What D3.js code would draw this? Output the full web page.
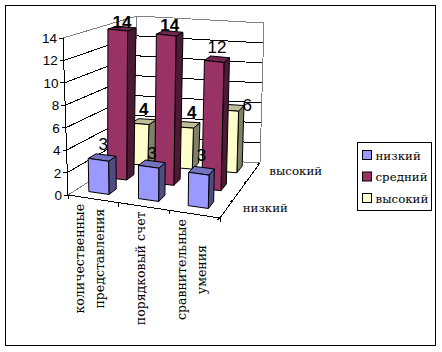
<!DOCTYPE html>
<html>
<head>
<meta charset="utf-8">
<script src="https://cdn.jsdelivr.net/npm/d3@7"></script>
<style>
html, body { margin: 0; padding: 0; background: #fff; }
svg { display: block; }
</style>
</head>
<body>
<div id="chart"></div>
<script>
var categories = [['количественные', 'представления'], ['порядковый счет'], ['сравнительные', 'умения']];
var seriesNames = ['низкий', 'средний', 'высокий'];
var nizkiy = [3, 3, 3];
var sredniy = [14, 14, 12];
var vysokiy = [4, 4, 6];
var yTicks = [0, 2, 4, 6, 8, 10, 12, 14];
var depthLabels = ['низкий', 'высокий'];

var seriesValues = [nizkiy, sredniy, vysokiy];
var faceColors = [
    {front: '#9999ff', side: '#4d4d80', top: '#7373bf'},
    {front: '#993366', side: '#4d1a33', top: '#732650'},
    {front: '#ffffcc', side: '#808066', top: '#bfbf99'}
];

var width = 442, height = 352;
var serifFont = '"DejaVu Serif", serif';
var sansFont = '"Liberation Sans", Arial, sans-serif';
var textSize = 12.5;

var svg = d3.select('#chart').append('svg')
    .attr('width', width)
    .attr('height', height);

svg.append('rect')
    .attr('x', 5.5).attr('y', 5.5)
    .attr('width', 430).attr('height', 340)
    .attr('fill', 'none').attr('stroke', '#000');

// corners of the 3d box as they land on the page: [floor, top], front/back, left/right
var box = {
    fl0: [68, 195], fr0: [220, 218], bl0: [131, 155], br0: [260, 163],
    fl1: [63, 38], fr1: [224, 60], bl1: [137, 16], br1: [264, 23]
};

var u = d3.scaleBand().domain(d3.range(categories.length)).range([0, 1]);
var w = d3.scaleLinear().domain([0, 14]).range([0, 1]);

var barU = 0.135, barV = 0.125;
var barInsetU = [0.085, 0.075, 0.085], barInsetV = [0.13, 0.46, 0.80];

// excel moved some labels off their bar, series by category
var labelNudge = [
    [[1, -6], [0, -4], [0, -9]],
    [[0, 0], [0, -1], [0, -5]],
    [[0, -6], [4, -6], [15, 4]]
];

function lerp(a, b, t) { return [a[0] + (b[0] - a[0]) * t, a[1] + (b[1] - a[1]) * t]; }

function project(a, b, c) {
    var floor = lerp(lerp(box.fl0, box.fr0, a), lerp(box.bl0, box.br0, a), b);
    var top = lerp(lerp(box.fl1, box.fr1, a), lerp(box.bl1, box.br1, a), b);
    return lerp(floor, top, c);
}

function line(p, q, color) {
    return svg.append('line')
        .attr('x1', p[0]).attr('y1', p[1])
        .attr('x2', q[0]).attr('y2', q[1])
        .attr('stroke', color)
        .attr('shape-rendering', 'crispEdges');
}

// walls
yTicks.forEach(function(t) {
    var c = w(t);
    var color = (t === 14 || t === 0) ? '#808080' : '#000';
    line(project(0, 0, c), project(0, 1, c), color);
    line(project(0, 1, c), project(1, 1, c), color);
});
line(project(0, 1, 0), project(0, 1, 1), '#808080');
line(project(1, 1, 0), project(1, 1, 1), '#808080');

// value axis
line(project(0, 0, 0), project(0, 0, 1), '#000');
yTicks.forEach(function(t) {
    var p = project(0, 0, w(t));
    line([p[0] - 4, p[1]], p, '#000');
    svg.append('text')
        .attr('x', p[0] - 6)
        .attr('y', p[1] + 5)
        .attr('text-anchor', 'end')
        .attr('font-family', sansFont)
        .attr('font-size', 13.5)
        .text(t);
});

// floor edges and their ticks
line(project(0, 0, 0), project(1, 0, 0), '#000');
line(project(1, 0, 0), project(1, 1, 0), '#000');
d3.range(categories.length + 1).forEach(function(i) {
    var p = project(i / categories.length, 0, 0);
    line(p, [p[0], p[1] + 4], '#000');
});
d3.range(seriesNames.length + 1).forEach(function(i) {
    var p = project(1, i / seriesNames.length, 0);
    line(p, [p[0] - 3, p[1] + 2], '#000');
});

function poly(points, fill) {
    svg.append('polygon')
        .attr('points', points.map(function(p) { return p.join(','); }).join(' '))
        .attr('fill', fill)
        .attr('stroke', '#000')
        .attr('stroke-linejoin', 'round');
}

// back row first so the front ones cover it
d3.range(seriesNames.length - 1, -1, -1).forEach(function(s) {
    categories.forEach(function(cat, i) {
        var c = w(seriesValues[s][i]);
        var u0 = u(i) + barInsetU[s], u1 = u0 + barU;
        var v0 = barInsetV[s], v1 = v0 + barV;
        poly([project(u1, v0, 0), project(u1, v1, 0), project(u1, v1, c), project(u1, v0, c)], faceColors[s].side);
        poly([project(u0, v0, c), project(u1, v0, c), project(u1, v1, c), project(u0, v1, c)], faceColors[s].top);
        poly([project(u0, v0, 0), project(u1, v0, 0), project(u1, v0, c), project(u0, v0, c)], faceColors[s].front);
    });
});

// value labels sit on the centre of each bar top
seriesValues.forEach(function(values, s) {
    values.forEach(function(val, i) {
        var p = project(u(i) + barInsetU[s] + barU / 2, barInsetV[s] + barV / 2, w(val));
        svg.append('text')
            .attr('x', p[0] + labelNudge[s][i][0])
            .attr('y', p[1] - 1 + labelNudge[s][i][1])
            .attr('text-anchor', 'middle')
            .attr('font-family', sansFont)
            .attr('font-size', 17)
            .attr('font-weight', (val === 14 || val === 4) ? 'bold' : 'normal')
            .text(val);
    });
});

// category labels, rotated
categories.forEach(function(lines, i) {
    var base = project((i + 0.5) / categories.length, 0, 0);
    var sizer = lines.map(function(t) {
        var el = svg.append('text').attr('font-family', serifFont).attr('font-size', textSize).text(t);
        var len = el.node().getComputedTextLength();
        el.remove();
        return len;
    });
    var longest = d3.max(sizer);
    lines.forEach(function(t, k) {
        var x = base[0] + (k - (lines.length - 1) / 2) * 20 + 1;
        var y = base[1] + 5 + longest / 2;
        svg.append('text')
            .attr('transform', 'translate(' + x + ',' + y + ') rotate(-90)')
            .attr('text-anchor', 'middle')
            .attr('font-family', serifFont)
            .attr('font-size', textSize)
            .text(t);
    });
});

// depth labels
depthLabels.forEach(function(t, i) {
    var p = project(1, i === 0 ? 1 / 6 : 5 / 6, 0);
    svg.append('text')
        .attr('x', p[0] + 16)
        .attr('y', p[1] + 3)
        .attr('font-family', serifFont)
        .attr('font-size', 11.8)
        .text(t);
});

// legend
var legend = svg.append('g').attr('transform', 'translate(357.5,142.5)');
legend.append('rect')
    .attr('width', 74).attr('height', 68)
    .attr('fill', '#fff').attr('stroke', '#000');
var legendY = d3.scalePoint().domain(seriesNames).range([13, 56]);
seriesNames.forEach(function(name, i) {
    legend.append('rect')
        .attr('x', 5).attr('y', legendY(name) - 5)
        .attr('width', 9).attr('height', 9)
        .attr('fill', faceColors[i].front).attr('stroke', '#000');
    legend.append('text')
        .attr('x', 18).attr('y', legendY(name) + 4)
        .attr('font-family', serifFont)
        .attr('font-size', 11.8)
        .text(name);
});
</script>
</body>
</html>
